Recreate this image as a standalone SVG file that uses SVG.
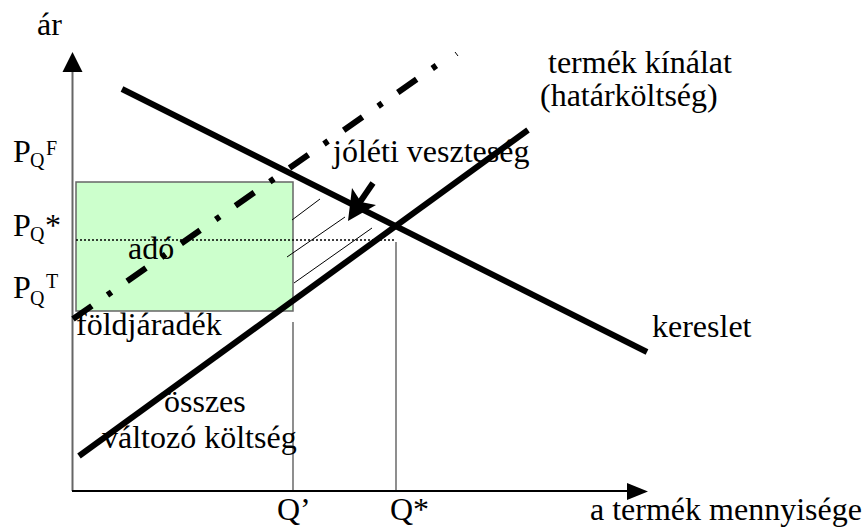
<svg xmlns="http://www.w3.org/2000/svg" width="862" height="527" viewBox="0 0 862 527">
<style>
text{font-family:"Liberation Serif","Times New Roman",serif;font-size:32px;fill:#000}
.sub{font-size:20px}
.thick{stroke:#000;stroke-width:6;fill:none}
.thin{stroke:#000;stroke-width:1;fill:none}
.guide{stroke:#444;stroke-width:1.2;fill:none}
</style>
<rect width="862" height="527" fill="#fff"/>
<g id="area">
<rect x="76" y="182" width="217" height="129" fill="#ccffcc" stroke="#666" stroke-width="1.5"/>
</g>
<g id="guides">
<line class="guide" x1="293" y1="322" x2="293" y2="491"/>
<line class="guide" x1="396" y1="242" x2="396" y2="491"/>
<line x1="76" y1="240" x2="396" y2="240" stroke="#000" stroke-width="1.5" stroke-dasharray="2 2"/>
<line class="thin" x1="292" y1="220" x2="320" y2="199"/>
<line class="thin" x1="287" y1="257" x2="345" y2="217"/>
<line class="thin" x1="294" y1="283" x2="372" y2="228"/>
</g>
<g id="axes">
<line x1="72.5" y1="70" x2="72.5" y2="491" stroke="#666" stroke-width="2"/>
<polygon points="72.5,52 62.5,72 82.5,72" fill="#000"/>
<line x1="72" y1="491" x2="630" y2="491" stroke="#000" stroke-width="2"/>
<polygon points="648,491.5 627,483 627,500" fill="#000"/>
</g>
<g id="labels">
<text x="37" y="35">ár</text>
<text x="13" y="162">P</text><text class="sub" x="30" y="167">Q</text><text class="sub" x="46" y="155">F</text>
<text x="13" y="236">P</text><text class="sub" x="30" y="241">Q</text><text x="45" y="236">*</text>
<text x="13" y="298">P</text><text class="sub" x="30" y="305">Q</text><text class="sub" x="46" y="288">T</text>
<text x="128" y="259">adó</text>
<text x="76" y="335">földjáradék</text>
<text x="333" y="162">jóléti veszteség</text>
<text x="548" y="73">termék kínálat</text>
<text x="540" y="106">(határköltség)</text>
<text x="652" y="337">kereslet</text>
<text x="164" y="412">összes</text>
<text x="102" y="448">változó költség</text>
<text x="277" y="520">Q’</text>
<text x="390" y="520">Q*</text>
<text x="590" y="520">a termék mennyisége</text>
</g>
<g id="curves">
<line id="demand" class="thick" x1="122" y1="89" x2="647" y2="352"/>
<line id="supply" class="thick" x1="79" y1="456" x2="528" y2="130"/>
<line id="supply-tax" class="thick" x1="73" y1="319" x2="440" y2="63" stroke-dasharray="23 19 5 19"/>
<line x1="455" y1="52" x2="458" y2="56" stroke="#000" stroke-width="1"/>
</g>
<g id="connectors">
<line class="thick" x1="373" y1="183" x2="360" y2="202" stroke-width="7"/>
<polygon points="348,221 352,188 361,202 376,205" fill="#000"/>
</g>
</svg>
